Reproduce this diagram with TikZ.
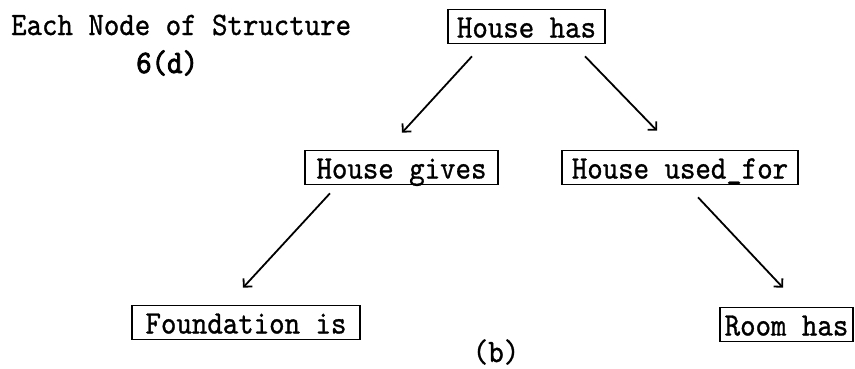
\documentclass[tikz,border=0pt]{standalone}
\usepackage{fontspec}
\usetikzlibrary{arrows.meta,calc}
\newfontfamily\typewriter[FakeStretch=0.9,FakeBold=0.9]{lmmono10-regular.otf}
\newfontfamily\typewriterheavy[FakeStretch=0.9,FakeBold=2.4]{lmmono10-regular.otf}
\begin{document}
\begin{tikzpicture}[x=1pt,y=-1pt,
  every node/.style={font=\typewriter\fontsize{32.7}{36}\selectfont},
  tbox/.style={draw,line width=1.6pt,inner sep=0pt,minimum height=34pt,text depth=0pt,text height=22pt},
  link/.style={line width=1.8pt,-{Straight Barb[length=6pt,width=12pt,line width=1.8pt]}},
  caption/.style={inner sep=0pt,anchor=base west}]
\useasboundingbox (0,0) rectangle (855,368);

% heading
\node[caption] (title) at (11,35) {Each Node of Structure};
\node[caption,font=\typewriterheavy\fontsize{32.7}{36}\selectfont] (sub) at (136,73) {6(d)};

% tree nodes
\node[tbox,minimum width=157pt] (hh) at (526.5,26.5) {House has};
\node[tbox,minimum width=193pt] (hg) at (401.5,167.5) {House gives};
\node[tbox,minimum width=236pt] (hu) at (680,167.5) {House used\_for};
\node[tbox,minimum width=228pt] (hf) at (246,322.5) {Foundation is};
\node[tbox,minimum width=133pt] (hr) at (786.5,324.5) {Room has};

% connectors
\draw[link] ($(hh.south)+(-54.5,12)$) -- ($(hg.north)+(0.5,-17)$);
\draw[link] ($(hh.south)+(58.5,12)$) -- ($(hu.north)+(-23,-19)$);
\draw[link] ($(hg.south)+(-71.5,8)$) -- ($(hf.north)+(-3,-17)$);
\draw[link] ($(hu.south)+(18,12)$) -- ($(hr.north)+(-3.5,-19)$);

% label
\node[caption,anchor=base] (lbl) at (496,362) {(b)};
\end{tikzpicture}
\end{document}
